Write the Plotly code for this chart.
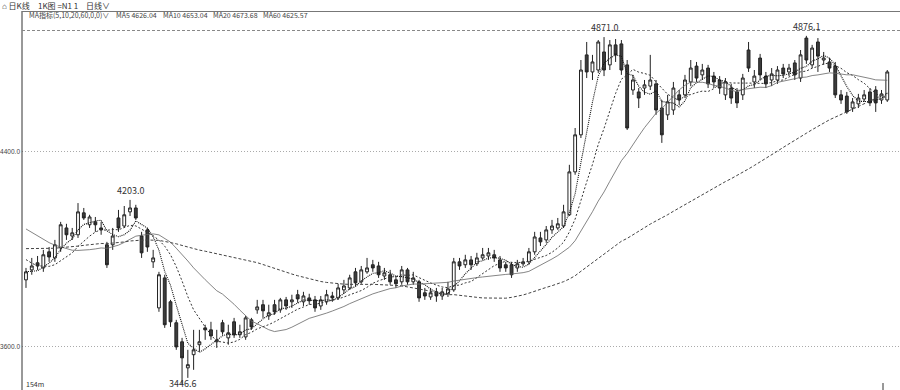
import plotly.graph_objects as go
import pandas as pd

# ---- data (prices) ----
prior_close = [3940, 3955, 3962, 3948, 3935, 3950, 3968, 3972, 3960, 3945, 3938, 3950, 3965, 3978,
               3970, 3955, 3942, 3936, 3948, 3960, 3975, 3982, 3968, 3952, 3940, 3946, 3958, 3970,
               3962, 3950, 3944, 3956, 3969, 3975, 3963, 3951, 3947, 3958, 3990,
               4180, 4210, 4235, 4250, 4240, 4225, 4230, 4215, 4200, 4170,
               4120, 4080, 4040, 4000, 3970, 3950, 3930, 3915, 3900, 3890]

open_ = [3875, 3916, 3945, 3924, 3990, 3965, 4006, 4088, 4055, 4060,
         4150, 4101, 4113, 4088, 4019, 4019, 4129, 4096, 4154, 4170,
         4055, 4080, 3949, 3760, 3883, 3785, 3699, 3621, 3514, 3568,
         3609, 3678, 3670, 3621, 3699, 3637, 3703, 3650, 3641, 3711,
         3752, 3773, 3727, 3773, 3752, 3793, 3785, 3814, 3785, 3801,
         3793, 3768, 3785, 3809, 3801, 3834, 3842, 3908, 3867, 3908,
         3937, 3932, 3891, 3896, 3875, 3867, 3916, 3867, 3867, 3822,
         3805, 3826, 3809, 3818, 3834, 3949, 3937, 3957, 3941, 3965,
         3973, 3978, 3957, 3937, 3937, 3924, 3941, 3949, 3990, 4047,
         4039, 4080, 4088, 4096, 4142, 4318, 4470, 4798, 4728, 4736,
         4810, 4757, 4839, 4843, 4757, 4654, 4646, 4662, 4670, 4679,
         4580, 4552, 4572, 4634, 4634, 4687, 4752, 4716, 4744, 4711,
         4695, 4634, 4662, 4646, 4634, 4818, 4687, 4785, 4711, 4695,
         4695, 4744, 4728, 4765, 4703, 4867, 4757, 4851, 4777, 4769,
         4752, 4634, 4629, 4580, 4597, 4617, 4646, 4654, 4613, 4613]
high = [3924, 3965, 3973, 3998, 4010, 4039, 4113, 4105, 4088, 4190,
        4170, 4142, 4133, 4113, 4031, 4088, 4162, 4178, 4203.0, 4183,
        4072, 4088, 3998, 3908, 3896, 3793, 3711, 3637, 3588, 3670,
        3670, 3691, 3703, 3670, 3711, 3691, 3719, 3691, 3727, 3719,
        3793, 3793, 3773, 3793, 3801, 3805, 3814, 3834, 3826, 3818,
        3809, 3809, 3834, 3826, 3859, 3875, 3896, 3924, 3932, 3965,
        3957, 3949, 3924, 3916, 3891, 3932, 3924, 3908, 3875, 3842,
        3842, 3842, 3842, 3867, 3965, 3965, 3978, 3973, 3986, 4006,
        4006, 3998, 3973, 3949, 3949, 3957, 3965, 4006, 4072, 4072,
        4096, 4121, 4129, 4183, 4347, 4498, 4777, 4851, 4798, 4859,
        4871.0, 4859, 4863, 4859, 4777, 4716, 4662, 4695, 4798, 4695,
        4613, 4634, 4687, 4654, 4716, 4777, 4769, 4761, 4757, 4728,
        4711, 4703, 4679, 4662, 4720, 4851, 4736, 4802, 4728, 4744,
        4752, 4761, 4761, 4777, 4818, 4876.1, 4839, 4867, 4810, 4785,
        4769, 4654, 4646, 4621, 4638, 4654, 4662, 4670, 4654, 4736]
low = [3842, 3896, 3916, 3908, 3949, 3949, 3990, 4039, 4039, 4047,
       4121, 4088, 4072, 4060, 3924, 3998, 4072, 4088, 4137, 4121,
       3965, 3990, 3924, 3744, 3678, 3682, 3588, 3446.6, 3473, 3506,
       3580, 3629, 3629, 3596, 3650, 3609, 3637, 3637, 3629, 3670,
       3736, 3719, 3711, 3732, 3740, 3752, 3760, 3781, 3768, 3773,
       3744, 3752, 3773, 3785, 3793, 3818, 3834, 3850, 3859, 3900,
       3908, 3883, 3875, 3855, 3842, 3855, 3855, 3855, 3785, 3793,
       3793, 3785, 3793, 3805, 3826, 3916, 3924, 3916, 3932, 3957,
       3957, 3949, 3908, 3908, 3883, 3908, 3932, 3937, 3978, 4014,
       4027, 4064, 4080, 4088, 4137, 4306, 4457, 4703, 4695, 4724,
       4711, 4736, 4769, 4716, 4490, 4634, 4580, 4634, 4654, 4552,
       4437, 4531, 4552, 4592, 4621, 4670, 4687, 4695, 4662, 4662,
       4638, 4613, 4597, 4580, 4613, 4728, 4662, 4695, 4662, 4670,
       4679, 4703, 4711, 4695, 4687, 4761, 4744, 4728, 4757, 4728,
       4621, 4597, 4556, 4564, 4580, 4605, 4588, 4564, 4597, 4605]
close = [3908, 3932, 3932, 3978, 3969, 4019, 4101, 4060, 4068, 4154,
         4129, 4133, 4101, 4080, 3937, 4055, 4088, 4142, 4170, 4129,
         3986, 4010, 3965, 3896, 3691, 3703, 3600, 3555, 3527, 3588,
         3621, 3670, 3645, 3629, 3662, 3658, 3650, 3662, 3719, 3682,
         3764, 3748, 3740, 3744, 3793, 3768, 3793, 3797, 3809, 3789,
         3760, 3793, 3814, 3801, 3842, 3850, 3883, 3863, 3916, 3924,
         3924, 3896, 3904, 3867, 3859, 3916, 3867, 3883, 3801, 3809,
         3822, 3809, 3826, 3838, 3949, 3932, 3957, 3937, 3965, 3978,
         3986, 3965, 3924, 3924, 3896, 3941, 3949, 3990, 4051, 4031,
         4080, 4096, 4105, 4154, 4318, 4470, 4736, 4728, 4769, 4851,
         4736, 4839, 4798, 4736, 4498, 4695, 4621, 4675, 4695, 4572,
         4470, 4605, 4662, 4613, 4695, 4744, 4703, 4736, 4679, 4687,
         4662, 4687, 4621, 4601, 4703, 4744, 4711, 4716, 4679, 4720,
         4736, 4720, 4744, 4716, 4798, 4777, 4826, 4793, 4785, 4744,
         4634, 4613, 4564, 4605, 4621, 4634, 4601, 4601, 4638, 4728]

ma_periods = [5, 10, 20, 60]
y_ticks = [3600, 4400]
y_tick_labels = ["3600.0", "4400.0"]
mark_labels = ["4203.0", "3446.6", "4871.0", "4876.1"]
header_parts = ["⌂ 日K线", "1K图 =N1 1", "日线∨"]
ma_legend_parts = ["MA指标(5,10,20,60,0,0)∨", "MA5 4626.04", "MA10 4653.04", "MA20 4673.68", "MA60 4625.57"]
corner_text = "154m"

# ---- figure ----
W, H, L, T = 900, 390, 22, 30
def px(xp):  # pixel -> paper x
    return (xp - L) / (W - L)
def py(yp):  # pixel -> paper y
    return (H - yp) / (H - T)

n = len(close)
xs = list(range(n))
all_close = pd.Series(prior_close + close)
font_cn = "Noto Sans CJK SC, Noto Sans, sans-serif"

fig = go.Figure()
fig.add_trace(go.Candlestick(
    x=xs, open=open_, high=high, low=low, close=close,
    increasing=dict(line=dict(color="#222222", width=1), fillcolor="#ffffff"),
    decreasing=dict(line=dict(color="#222222", width=1), fillcolor="#3c3c3c"),
    whiskerwidth=0, hoverinfo="skip", showlegend=False))

ma_styles = {5: ("#111111", "1px,1px", 1.1), 10: ("#333333", "2px,2px", 1),
             20: ("#666666", "solid", 0.8), 60: ("#444444", "3px,2px", 1)}
for p in ma_periods:
    ma = all_close.rolling(p).mean().iloc[len(prior_close):].tolist()
    col, dash, w = ma_styles[p]
    fig.add_trace(go.Scatter(x=xs, y=ma, mode="lines", line=dict(color=col, dash=dash, width=w),
                             hoverinfo="skip", showlegend=False))

ann = []
def price_label(text, idx, yval):
    ann.append(dict(x=idx, y=yval, xref="x", yref="y", text=text, showarrow=False,
                    yanchor="bottom", yshift=1,
                    font=dict(family=font_cn, size=9, color="#333333")))

price_label(mark_labels[0], high.index(4203.0), 4203.0)
price_label(mark_labels[2], high.index(4871.0), 4871.0)
price_label(mark_labels[3], high.index(4876.1), 4876.1)
ann.append(dict(x=low.index(3446.6), y=py(383.5), xref="x", yref="paper", text=mark_labels[1],
                showarrow=False, yanchor="middle",
                font=dict(family=font_cn, size=9, color="#333333")))

for txt, xp in zip(header_parts, [0, 36, 84]):
    ann.append(dict(x=px(xp), y=py(5), xref="paper", yref="paper", text=txt, showarrow=False,
                    xanchor="left", yanchor="middle",
                    font=dict(family=font_cn, size=8, color="#333333")))
for txt, xp in zip(ma_legend_parts, [27, 114, 161, 211, 261]):
    ann.append(dict(x=px(xp), y=py(15.5), xref="paper", yref="paper", text=txt, showarrow=False,
                    xanchor="left", yanchor="middle",
                    font=dict(family=font_cn, size=7, color="#444444")))
ann.append(dict(x=px(24), y=py(383.5), xref="paper", yref="paper", text=corner_text, showarrow=False,
                xanchor="left", yanchor="middle", font=dict(family=font_cn, size=7, color="#333333")))

shapes = [
    dict(type="line", xref="paper", yref="paper", x0=0, x1=0, y0=0, y1=py(11),
         line=dict(color="#333333", width=1)),
    dict(type="line", xref="paper", yref="paper", x0=0, x1=1, y0=py(11.5), y1=py(11.5),
         line=dict(color="#777777", width=1)),
    dict(type="line", xref="paper", yref="paper", x0=0, x1=1, y0=py(30.5), y1=py(30.5),
         line=dict(color="#888888", width=1, dash="3px,2px")),
    dict(type="line", xref="paper", yref="paper", x0=px(883), x1=px(883), y0=0, y1=py(383),
         line=dict(color="#333333", width=1)),
]

fig.update_layout(
    width=W, height=H,
    margin=dict(l=L, r=0, t=T, b=0, autoexpand=False),
    paper_bgcolor="white", plot_bgcolor="white",
    hovermode=False, showlegend=False,
    annotations=ann, shapes=shapes,
    xaxis=dict(range=[-0.69, 151.2], visible=False, automargin=False,
               rangeslider=dict(visible=False)),
    yaxis=dict(range=[3423.2, 4900.1], tickvals=y_ticks, ticktext=y_tick_labels,
               automargin=False, ticklabelstandoff=1,
               showgrid=True, gridcolor="#aaaaaa", griddash="1px,2px", gridwidth=1,
               zeroline=False, showline=False, ticks="",
               tickfont=dict(family="Liberation Sans", size=6.5, color="#444444")),
)

fig.write_html("out.html", config={"displayModeBar": False, "staticPlot": True},
               post_script="document.body.style.margin='0';document.body.style.overflow='hidden';")
